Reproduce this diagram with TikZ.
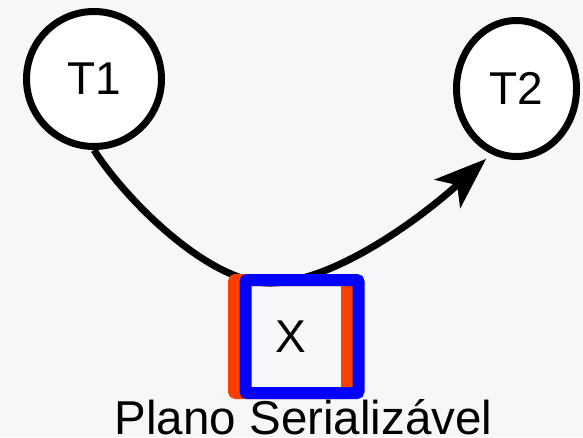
\documentclass[tikz,border=0pt]{standalone}
\usepackage{fontspec}
\setmainfont{Liberation Sans}
\usepackage{xcolor}
\usetikzlibrary{arrows.meta,shapes.geometric}
\definecolor{fundo}{HTML}{F6F7F9}
\definecolor{laranja}{HTML}{FF3F00}
\tikzstyle{transacao} = [draw, circle,
	line width=7pt,
	fill=white,
	minimum size=135pt,
	inner sep=0pt,
	font=\fontsize{46}{50}\selectfont
	]
\tikzstyle{recurso} = [draw=laranja, rectangle,
	line width=12pt,
	rounded corners=2pt,
	minimum size=113pt,
	inner sep=0pt,
	font=\fontsize{46}{50}\selectfont
	]
\tikzstyle{seta} = [draw,
	line width=7pt,
	-{Stealth[length=52pt,width=38pt,inset=13pt]}
	]
\begin{document}
\begin{tikzpicture}[x=1pt, y=-1pt]
    \fill[fundo] (0,0) rectangle (583,437);
    \useasboundingbox (0,0) rectangle (583,437);

    \node [transacao] (t1) at (94,79) {T1};
    \node [transacao, ellipse, minimum width=120pt, minimum height=136pt] (t2) at (516.5,88.5) {T2};

    % ponto mais baixo da curva, escondido pelo quadrado
    \coordinate (vale) at (272,283);
    \draw [seta, shorten >=7pt] (t1.south)
    	.. controls +(31,49) and +(-62,2) .. (vale)
    	.. controls +(62,-2) and +(-74,67) .. (t2.-111.6);

    \node [recurso] (x) at (290.5,336.5) {X};
    \node [recurso, draw=blue] (xazul) at ([xshift=11.5pt]x.center) {};

    \node [anchor=base, font=\fontsize{47.5}{50}\selectfont] (legenda) at (303.5,434) {Plano Serializável};
\end{tikzpicture}
\end{document}
